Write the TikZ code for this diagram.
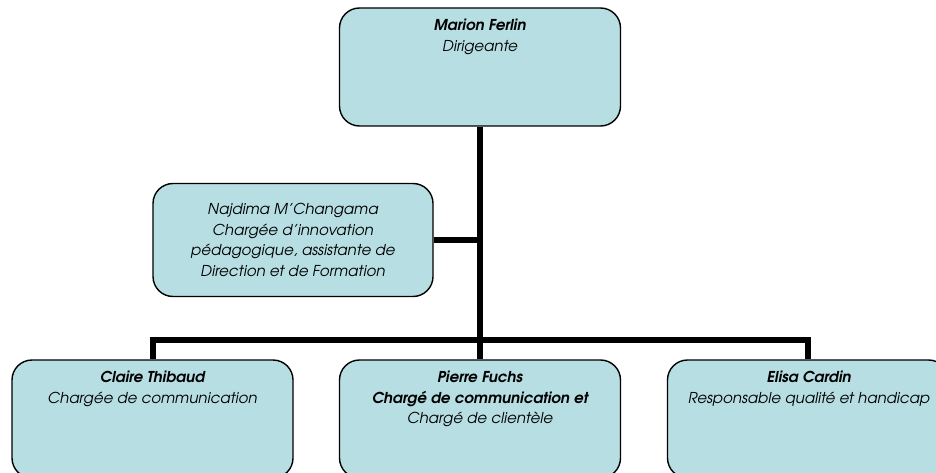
\documentclass[tikz,border=0pt]{standalone}
\usepackage{fontspec}
\setmainfont{texgyreadventor}[Extension=.otf,UprightFont=*-regular,BoldFont=*-bold,
	ItalicFont=*-italic,BoldItalicFont=*-bolditalic]
\usetikzlibrary{positioning}
\definecolor{boxblue}{RGB}{183,222,226}
\begin{document}
\begin{tikzpicture}[x=1pt,y=-1pt,
	font=\fontsize{15}{20.5}\selectfont\itshape,
	box/.style={draw,fill=boxblue,line width=1.4pt,rounded corners=20pt,
		minimum width=281pt,minimum height=118pt,inner sep=0pt},
	txt/.style={align=center,inner sep=0pt},
	link/.style={line width=6pt}]
\useasboundingbox (0,0) rectangle (936,473);
\clip (0,0) rectangle (936,473);
\node[box] (dir) at (480,67) {};
\node[box,minimum width=280pt,minimum height=113pt,txt] (assist) at (293,240)
	{Najdima M’Changama\\Chargée d’innovation\\pédagogique, assistante de\\Direction et de Formation};
\node[box] (claire) at (152.5,419) {};
\node[box] (pierre) at (480,419) {};
\node[box] (elisa) at (808,419) {};
\node[txt,below=12pt of dir.north] (dirtxt) {\bfseries Marion Ferlin\\Dirigeante};
\node[txt,below=12pt of claire.north] (clairetxt) {\bfseries Claire Thibaud\\Chargée de communication};
\node[txt,below=12pt of pierre.north] (pierretxt) {\bfseries Pierre Fuchs\\\bfseries Chargé de communication et\\Chargé de clientèle};
\node[txt,below=12pt of elisa.north,xshift=1pt] (elisatxt) {\bfseries Elisa Cardin\\Responsable qualité et handicap};
\draw[link] (dir.south) -- (pierre.north);
\draw[link] (assist.east) -- (assist.east -| dir.south);
\draw[link] (claire.north) -- ++(0,-19) -| (elisa.north);
\end{tikzpicture}
\end{document}
